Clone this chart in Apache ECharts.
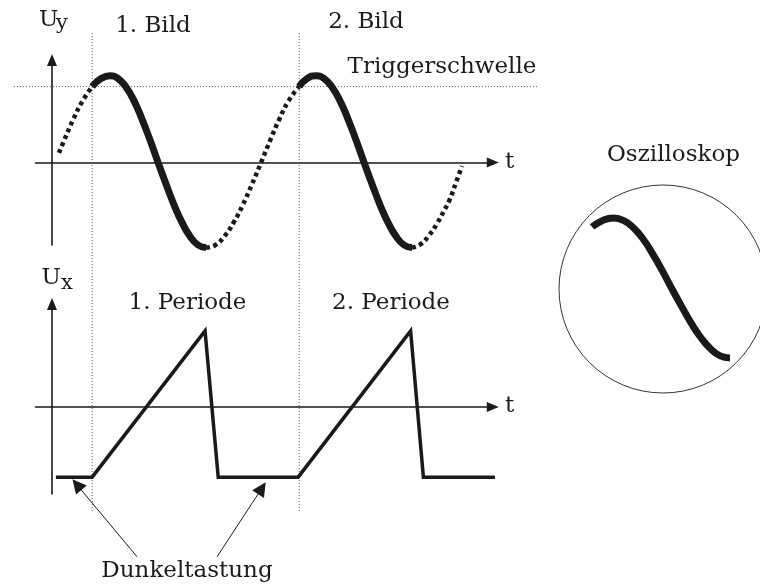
<!DOCTYPE html>
<html>
<head>
<meta charset="utf-8">
<script src="https://cdn.jsdelivr.net/npm/echarts@6/dist/echarts.min.js"></script>
<style>
  html, body { margin: 0; padding: 0; background: #fff; }
  #chart { width: 760px; height: 587px; }
</style>
</head>
<body>
<div id="chart"></div>
<script>
// time t in ms, voltages normalised to the sine amplitude
const triggerTimes = [1.95, 12.0]
const triggerLevel = 0.874

// Uy: dotted parts = beam dark, solid parts = visible picture
const uyDark1 = [[0.34, 0.11], [0.6, 0.26], [1.04, 0.5], [1.49, 0.71], [1.95, 0.874]]
const uyBild1 = [[1.95, 0.874], [2.38, 0.966], [2.82, 1.0], [3.21, 0.966], [3.6, 0.866], [3.99, 0.707],
  [4.37, 0.5], [4.76, 0.259], [5.15, 0], [5.54, -0.25], [5.93, -0.49], [6.31, -0.69],
  [6.7, -0.85], [7.09, -0.95], [7.48, -0.98]]
const uyDark2 = [[7.48, -0.98], [7.93, -0.95], [8.37, -0.85], [8.82, -0.69], [9.26, -0.49],
  [9.71, -0.25], [10.15, 0], [10.6, 0.26], [11.04, 0.5], [11.49, 0.71], [12.0, 0.874]]
const uyBild2 = [[12.0, 0.874], [12.38, 0.966], [12.82, 1.0], [13.21, 0.966], [13.6, 0.866], [13.99, 0.707],
  [14.37, 0.5], [14.76, 0.259], [15.15, 0], [15.54, -0.25], [15.93, -0.49], [16.31, -0.69],
  [16.7, -0.85], [17.09, -0.95], [17.48, -0.98]]
const uyDark3 = [[17.48, -0.98], [17.9, -0.94], [18.3, -0.84], [18.7, -0.7], [19.0, -0.57],
  [19.3, -0.43], [19.6, -0.24], [19.9, -0.04]]

// Ux: sawtooth (Kippspannung)
const uxSaw = [[0.19, -1], [1.95, -1], [7.43, 1.086], [8.07, -1], [11.95, -1],
  [17.41, 1.086], [18.03, -1], [21.55, -1]]

// guide lines, in the units of the Uy plot
const triggerSpan = [-1.85, 23.6]
const markerSpan = [1.49, -4.02]

// Dunkeltastung arrows: [from, to] in the units of the Ux plot
const darkArrows = [
  [[4.13, -2.14], [1.21, -1.11]],
  [[8.01, -2.14], [10.19, -1.16]]
]

const ink = '#1a1a1a'
const textColor = '#1f1b1c'
const font = '"DejaVu Serif", "Liberation Serif", serif'

const chart = echarts.init(document.getElementById('chart'))

function plotAxis(gridIndex, min, max, show) {
  return {
    type: 'value', gridIndex, min, max, show,
    axisLine: {
      show: true, onZero: true,
      symbol: ['none', 'triangle'], symbolSize: [10, 12],
      lineStyle: { color: ink, width: 1.6 }
    },
    axisTick: { show: false },
    axisLabel: { show: false },
    splitLine: { show: false }
  }
}

function curve(data, dotted, axisIndex) {
  return {
    type: 'line', data, xAxisIndex: axisIndex, yAxisIndex: axisIndex,
    smooth: 0.5, symbol: 'none', silent: true, clip: false,
    lineStyle: dotted
      ? { color: ink, width: 4.5, type: [4, 3.5], cap: 'butt' }
      : { color: ink, width: 7, cap: 'butt' }
  }
}

function thinDotted(data) {
  return {
    type: 'line', data, xAxisIndex: 3, yAxisIndex: 3,
    symbol: 'none', silent: true, z: 1,
    lineStyle: { color: '#555', width: 1, type: [1, 2] }
  }
}

function label(text, x, y, size, align) {
  return {
    type: 'text', x, y, silent: true,
    style: {
      text, fill: textColor, font: size + 'px ' + font,
      textAlign: align || 'center', textVerticalAlign: 'middle'
    }
  }
}

const option = {
  animation: false,
  grid: [
    { left: 35.5, top: 60, width: 457.3, height: 185 },
    { left: 35.5, top: 304, width: 457.3, height: 190 },
    { left: 592, top: 218, width: 138, height: 140 },
    // full-page overlays sharing the time scale (for guides and arrows)
    { left: 0, top: 0, width: 760, height: 587 },
    { left: 0, top: 0, width: 760, height: 587 }
  ],
  xAxis: [
    plotAxis(0, -0.8, 21.4, true),
    plotAxis(1, -0.8, 21.4, true),
    plotAxis(2, 1.95, 7.48, false),
    plotAxis(3, -2.524, 34.369, false),
    plotAxis(4, -2.524, 34.369, false)
  ],
  yAxis: [
    plotAxis(0, -0.95, 1.18, true),
    plotAxis(1, -1.24, 1.47, true),
    plotAxis(2, -0.98, 1.0, false),
    plotAxis(3, -4.888, 1.871, false),
    plotAxis(4, -2.571, 5.814, false)
  ],
  series: [
    thinDotted(triggerSpan.map(t => [t, triggerLevel])),
    ...triggerTimes.map(t => thinDotted(markerSpan.map(v => [t, v]))),
    curve(uyDark1, true, 0),
    curve(uyBild1, false, 0),
    curve(uyDark2, true, 0),
    curve(uyBild2, false, 0),
    curve(uyDark3, true, 0),
    {
      type: 'line', data: uxSaw, xAxisIndex: 1, yAxisIndex: 1,
      symbol: 'none', silent: true, clip: false,
      lineStyle: { color: ink, width: 3.5, join: 'miter' }
    },
    {
      type: 'lines', coordinateSystem: 'cartesian2d', xAxisIndex: 4, yAxisIndex: 4,
      silent: true, clip: false,
      symbol: ['none', 'triangle'], symbolSize: [10, 14],
      lineStyle: { color: ink, width: 1, opacity: 1, curveness: 0 },
      data: darkArrows.map(coords => ({ coords }))
    },
    // what the screen shows: the first "Bild"
    curve(uyBild1, false, 2)
  ],
  graphic: [
    { type: 'circle', silent: true, shape: { cx: 663, cy: 289, r: 104 },
      style: { fill: 'none', stroke: '#333', lineWidth: 1 } },
    label('U', 39, 20, 23, 'left'),
    label('y', 56, 24, 21, 'left'),
    label('1. Bild', 153, 26.5, 23),
    label('2. Bild', 366, 22.5, 23),
    label('Triggerschwelle', 442, 67.5, 23),
    label('t', 505, 162, 23, 'left'),
    label('U', 41.5, 278.5, 23, 'left'),
    label('x', 61, 284, 21, 'left'),
    label('1. Periode', 187.5, 303.5, 23),
    label('2. Periode', 391, 303.5, 23),
    label('t', 505, 406, 23, 'left'),
    label('Dunkeltastung', 187, 571, 23),
    label('Oszilloskop', 673.5, 155.5, 23)
  ]
}

chart.setOption(option)
</script>
</body>
</html>
